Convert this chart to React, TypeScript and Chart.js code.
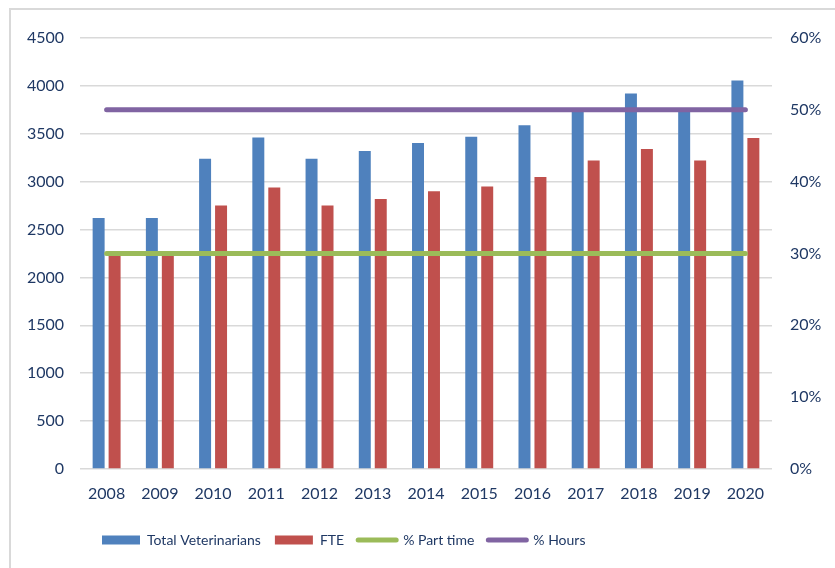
import React, { useEffect, useRef } from "react";
import { Chart, registerables } from "chart.js";

Chart.register(...registerables);

const years = ["2008", "2009", "2010", "2011", "2012", "2013", "2014", "2015", "2016", "2017", "2018", "2019", "2020"];
const totalVets = [2620, 2620, 3240, 3460, 3240, 3320, 3405, 3470, 3590, 3750, 3920, 3750, 4055];
const fte = [2240, 2240, 2750, 2940, 2750, 2820, 2900, 2950, 3050, 3220, 3340, 3220, 3455];
const partTime = [0.3, 0.3, 0.3, 0.3, 0.3, 0.3, 0.3, 0.3, 0.3, 0.3, 0.3, 0.3, 0.3];
const hours = [0.5, 0.5, 0.5, 0.5, 0.5, 0.5, 0.5, 0.5, 0.5, 0.5, 0.5, 0.5, 0.5];

const TEXT = "#1F3864";
const FONT = "Lato";

const legendShift = {
  id: "legendShift",
  afterLayout(chart: any) {
    if (chart.legend) {
      chart.legend.left = 88;
    }
  },
};

export default function App() {
  const ref = useRef<HTMLCanvasElement>(null);
  useEffect(() => {
    if (!ref.current) return;
    const chart = new Chart(ref.current, {
      type: "bar",
      data: {
        labels: years,
        datasets: [
          { type: "bar", label: "Total Veterinarians", data: totalVets, backgroundColor: "#4F81BD", borderWidth: 0, yAxisID: "y", order: 1, categoryPercentage: 0.6, barPercentage: 0.75 },
          { type: "bar", label: "FTE", data: fte, backgroundColor: "#C0504D", borderWidth: 0, yAxisID: "y", order: 1, categoryPercentage: 0.6, barPercentage: 0.75 },
          { type: "line", label: "% Part time", data: partTime, borderColor: "#9BBB59", backgroundColor: "#9BBB59", borderWidth: 5, borderCapStyle: "round", pointRadius: 0, yAxisID: "y1", order: 0 },
          { type: "line", label: "% Hours", data: hours, borderColor: "#8064A2", backgroundColor: "#8064A2", borderWidth: 5, borderCapStyle: "round", pointRadius: 0, yAxisID: "y1", order: 0 },
        ] as any,
      },
      plugins: [legendShift],
      options: {
        responsive: false,
        animation: false,
        layout: { padding: { top: 38, left: 0, right: 0, bottom: 11 } },
        plugins: {
          tooltip: { enabled: false },
          legend: {
            position: "bottom",
            align: "start",
            labels: {
              font: { family: FONT, size: 14 },
              color: TEXT,
              usePointStyle: true,
              pointStyleWidth: 38,
              boxHeight: 9,
              padding: 14,
              generateLabels: (c: any) =>
                c.data.datasets.map((ds: any, i: number) => ({
                  text: ds.label,
                  fillStyle: ds.backgroundColor,
                  strokeStyle: ds.type === "line" ? ds.borderColor : ds.backgroundColor,
                  lineWidth: ds.type === "line" ? 5 : 0,
                  lineCap: "round",
                  pointStyle: ds.type === "line" ? "line" : "rect",
                  hidden: false,
                  datasetIndex: i,
                  fontColor: TEXT,
                })),
            },
          },
        },
        scales: {
          x: {
            grid: { display: false, drawTicks: false },
            border: { display: false },
            ticks: { font: { family: FONT, size: 16 }, color: TEXT, padding: 15, maxRotation: 0 },
            afterFit: (s: any) => { s.height = 50; },
          },
          y: {
            position: "left",
            min: 0,
            max: 4500,
            ticks: { stepSize: 500, font: { family: FONT, size: 16 }, color: TEXT, padding: 16, callback: (v: any) => String(v) },
            grid: { color: "#D9D9D9", lineWidth: 1.5, drawTicks: false },
            border: { display: false },
            afterFit: (s: any) => { s.width = 80; },
          },
          y1: {
            position: "right",
            min: 0,
            max: 0.6,
            ticks: { stepSize: 0.1, font: { family: FONT, size: 16 }, color: TEXT, padding: 18, callback: (v: any) => Math.round(Number(v) * 100) + "%" },
            grid: { display: false, drawTicks: false },
            border: { display: false },
            afterFit: (s: any) => { s.width = 63; },
          },
        },
      } as any,
    });
    return () => chart.destroy();
  }, []);

  return (
    <div style={{ position: "fixed", left: 0, top: 0, width: 835, height: 568, overflow: "hidden", background: "#fff" }}>
      <div style={{ position: "absolute", left: 9, top: 8, width: 900, height: 700, border: "2px solid #D9D9D9" }} />
      <canvas ref={ref} width={835} height={568} style={{ position: "absolute", left: 0, top: 0 }} />
    </div>
  );
}
